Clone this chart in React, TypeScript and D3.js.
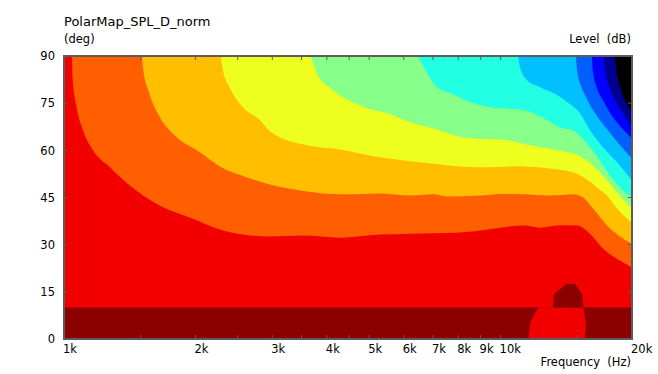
import React, { useEffect } from "react";
import * as d3 from "d3";

const W = 658;
const H = 374;
const plot = { left: 64, right: 632, top: 56, bottom: 339 };

// colour of each level band, highest level (on axis) first
const levelColors = [
  "#8c0000", "#f20000", "#ff5f00", "#ffbf00", "#eeff20", "#88ff88",
  "#22ffe2", "#00c0ff", "#0060ff", "#0000ff", "#000090", "#000000",
];

const xMajorTicks = [1000, 2000, 3000, 4000, 5000, 6000, 7000, 8000, 9000, 10000, 20000];
const xTickLabels = ["1k", "2k", "3k", "4k", "5k", "6k", "7k", "8k", "9k", "10k", "20k"];
const xMinorTicks = [1500, 2500, 3500, 4500, 15000];
const yTicks = [0, 15, 30, 45, 60, 75, 90];

// [frequency Hz, angle deg] — on-axis band and the irregular patch near 14k
const onAxisBand: [number, number][] = [[1000, 10], [20000, 10]];
const notchRed: [number, number][] = [
  [11600, 0], [11679, 4.8], [11890, 7.3], [12230, 10], [15480, 10], [15690, 4.8], [15608, 0],
];
const bumpDark: [number, number][] = [
  [13190, 10], [13260, 14.3], [14170, 17.6], [14810, 17.6], [15370, 14.3], [15480, 10],
];

// iso-level lines, lower edge of each band above red
const iso1: [number, number][] = [
  [1043, 90], [1046, 83.3], [1069, 73.7], [1105, 66.4], [1165, 60], [1274, 54.6], [1394, 49.5],
  [1659, 42.4], [1943, 38.6], [2313, 34.5], [2964, 32.6], [3527, 32.9], [4288, 32.2], [5295, 33.2],
  [6202, 33.5], [7947, 33.8], [8972, 34.5], [9969, 35.4], [11255, 36.1], [12312, 35.4],
  [13682, 36.2], [14963, 36.1], [16025, 33.5], [17163, 28.7], [18478, 25.5], [20000, 22.7],
];
const iso2: [number, number][] = [
  [1509, 90], [1519, 85.5], [1560, 79.1], [1659, 70.5], [1815, 64.1], [2017, 60], [2313, 54.3],
  [2625, 51.4], [2964, 49.1], [3602, 46.9], [4288, 46.0], [5295, 46.3], [6202, 45.6], [7002, 46.0],
  [7541, 45.3], [8972, 45.6], [9969, 46.1], [11255, 46.0], [12978, 45.6], [14650, 46.0],
  [15444, 45.0], [16280, 41.5], [17529, 36.1], [18773, 32.6], [20000, 30.3],
];
const iso3: [number, number][] = [
  [2288, 90], [2313, 85.5], [2400, 79.8], [2570, 73.7], [2812, 69.6], [2964, 66.1], [3602, 61.6],
  [4288, 60.3], [5295, 57.8], [6892, 55.9], [7661, 55.2], [8972, 54.6], [10676, 54.9],
  [12775, 54.3], [14650, 53.0], [15773, 50.7], [16628, 48.2], [17529, 45.6], [18478, 41.5],
  [20000, 37.0],
];
const iso4: [number, number][] = [
  [3679, 90], [3791, 84.6], [4067, 79.8], [4356, 76.9], [4944, 73.4], [5494, 71.8], [6202, 68.9],
  [7002, 67.0], [8203, 64.1], [9457, 63.5], [10344, 63.2], [11679, 61.6], [13467, 60.0],
  [14650, 59.0], [15773, 56.8], [16893, 53.0], [18478, 46.6], [20000, 41.5],
];
const iso5: [number, number][] = [
  [6470, 90], [6784, 84.6], [7151, 80.1], [7661, 78.2], [8511, 75.3], [9457, 73.7], [11255, 72.8],
  [12775, 69.6], [13682, 67.3], [14650, 66.4], [15444, 63.5], [16628, 58.1], [17808, 52.0],
  [18773, 48.2], [20000, 45.0],
];
const iso6: [number, number][] = [
  [10961, 90], [11077, 86.5], [11495, 82.3], [12312, 80.1], [13467, 77.6], [14420, 74.7],
  [15201, 71.8], [16025, 66.4], [17163, 61.0], [18478, 56.2], [20000, 50.4],
];
const iso7: [number, number][] = [
  [14884, 90], [14963, 85.5], [15201, 81.4], [15690, 76.9], [16453, 71.8], [17621, 66.4],
  [18773, 61.6], [20000, 57.4],
];
const iso8: [number, number][] = [
  [16195, 90], [16280, 84.9], [16628, 79.8], [17254, 75.3], [18092, 70.5], [18972, 67.0], [20000, 63.8],
];
const iso9: [number, number][] = [
  [17254, 90], [17345, 85.5], [17714, 80.7], [18284, 76.0], [19072, 71.8], [20000, 67.7],
];
const iso10: [number, number][] = [
  [18284, 90], [18429, 84.9], [18773, 80.4], [19274, 76.0], [20000, 72.1],
];

const isoLines = [iso1, iso2, iso3, iso4, iso5, iso6, iso7, iso8, iso9, iso10];

const FONT = "'DejaVu Sans', Verdana, sans-serif";
const AXIS = "#5c5c5c";

export default function App() {
  useEffect(() => {
    document.body.style.margin = "0";
  }, []);

  const x = d3.scaleLog().domain([1000, 20000]).range([plot.left, plot.right]);
  const y = d3.scaleLinear().domain([0, 90]).range([plot.bottom, plot.top]);

  const bandArea = d3
    .area<[number, number]>()
    .x((d) => x(d[0]))
    .y0(y(90))
    .y1((d) => y(d[1]))
    .curve(d3.curveMonotoneX);

  const bottomArea = d3
    .area<[number, number]>()
    .x((d) => x(d[0]))
    .y0(y(0))
    .y1((d) => y(d[1]));

  const poly = d3
    .line<[number, number]>()
    .x((d) => x(d[0]))
    .y((d) => y(d[1]));

  return (
    <svg width={W} height={H} style={{ display: "block", background: "#fff" }}>
      <defs>
        <clipPath id="plot-clip">
          <rect x={plot.left} y={plot.top} width={plot.right - plot.left} height={plot.bottom - plot.top} />
        </clipPath>
      </defs>

      <g clipPath="url(#plot-clip)">
        <rect
          x={x(1000)}
          y={y(90)}
          width={x(20000) - x(1000)}
          height={y(0) - y(90)}
          fill={levelColors[1]}
        />
        <path d={bottomArea(onAxisBand) ?? ""} fill={levelColors[0]} />
        <path d={(poly(notchRed) ?? "") + "Z"} fill={levelColors[1]} />
        <path d={(poly(bumpDark) ?? "") + "Z"} fill={levelColors[0]} />
        {isoLines.map((pts, i) => (
          <path key={i} d={bandArea(pts) ?? ""} fill={levelColors[i + 2]} />
        ))}
      </g>

      {/* frame */}
      <rect
        x={plot.left}
        y={plot.top}
        width={plot.right - plot.left}
        height={plot.bottom - plot.top}
        fill="none"
        stroke={AXIS}
        strokeWidth={2}
      />

      {/* x ticks, inward top and bottom */}
      {[...xMajorTicks, ...xMinorTicks].map((t) => (
        <g key={"xt" + t}>
          <line x1={x(t)} x2={x(t)} y1={plot.bottom} y2={plot.bottom - 4} stroke={AXIS} strokeWidth={1} />
          <line x1={x(t)} x2={x(t)} y1={plot.top} y2={plot.top + 4} stroke={AXIS} strokeWidth={1} />
        </g>
      ))}
      {yTicks.map((t) => (
        <g key={"yt" + t}>
          <line x1={plot.left} x2={plot.left + 4} y1={y(t)} y2={y(t)} stroke={AXIS} strokeWidth={1} />
          <line x1={plot.right} x2={plot.right - 4} y1={y(t)} y2={y(t)} stroke={AXIS} strokeWidth={1} />
        </g>
      ))}

      <g fontFamily={FONT} fontSize={11.5} fill="#000">
        {xMajorTicks.map((t, i) => (
          <text key={"xl" + t} x={x(t) - 1} y={353}>
            {xTickLabels[i]}
          </text>
        ))}
        {yTicks.map((t) => (
          <text key={"yl" + t} x={55} y={y(t) + 4.2} textAnchor="end">
            {t}
          </text>
        ))}
        <text x={plot.left} y={43}>(deg)</text>
        <text x={631} y={43} textAnchor="end" xmlSpace="preserve">Level  (dB)</text>
        <text x={631} y={366} textAnchor="end" xmlSpace="preserve">Frequency  (Hz)</text>
      </g>
      <text x={plot.left} y={26} fontFamily={FONT} fontSize={13} fill="#000">
        PolarMap_SPL_D_norm
      </text>
    </svg>
  );
}
